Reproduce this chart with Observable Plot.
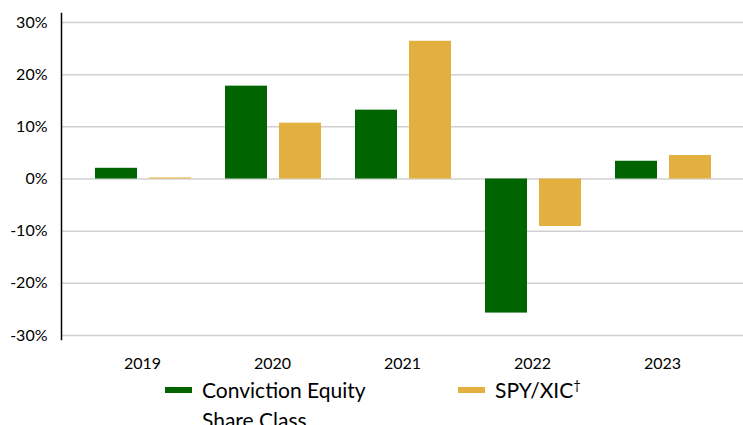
<!DOCTYPE html>
<html>
<head>
<meta charset="utf-8">
<script src="https://cdn.jsdelivr.net/npm/d3@7"></script>
<script src="https://cdn.jsdelivr.net/npm/@observablehq/plot@0.6"></script>
<style>
  html, body { margin: 0; padding: 0; background: #fff; }
  #wrap { width: 743px; height: 425px; overflow: hidden; font-family: Lato, "Open Sans", sans-serif; }
  #legend { position: relative; height: 50px; font-size: 21px; line-height: 30px; color: #000; }
  .item { position: absolute; top: 0; }
  .sw { position: absolute; top: 12px; width: 27px; height: 6px; }
  .lbl { position: absolute; top: 0; }
  sup { font-size: 13px; line-height: 0; vertical-align: 8px; }
</style>
</head>
<body>
<div id="wrap">
  <div id="chart"></div>
  <div id="legend"></div>
</div>
<script>
const years = ["2019", "2020", "2021", "2022", "2023"];
const convictionValues = [2.05, 17.8, 13.2, -25.7, 3.4];
const benchmarkValues = [0.2, 10.7, 26.4, -9.1, 4.5];
const yTicks = [-30, -20, -10, 0, 10, 20, 30];
const seriesNames = ["Conviction Equity Share Class", "SPY/XIC"];
const seriesColors = ["#006400", "#E3B03F"];

const conviction = years.map((year, i) => ({year, value: convictionValues[i]}));
const benchmark = years.map((year, i) => ({year, value: benchmarkValues[i]}));

const chart = Plot.plot({
  width: 743,
  height: 375,
  marginLeft: 61,
  marginRight: 0,
  marginTop: 13,
  marginBottom: 36,
  style: {fontFamily: "Lato, 'Open Sans', sans-serif", fontSize: "16px", color: "#000", background: "#fff"},
  x: {domain: years, paddingInner: 0, paddingOuter: 0.123, label: null, tickSize: 0, tickPadding: 18},
  y: {domain: [-30, 30], insetTop: 9, insetBottom: 4, ticks: yTicks, tickFormat: d => d + "%", label: null, tickSize: 0, tickPadding: 14},
  marks: [
    Plot.ruleY(yTicks, {stroke: "#d0d0d0", strokeWidth: 1.5, insetLeft: 1}),
    Plot.barY(conviction, {x: "year", y: "value", fill: seriesColors[0], insetLeft: 18, insetRight: 70}),
    Plot.barY(benchmark, {x: "year", y: "value", fill: seriesColors[1], insetLeft: 72, insetRight: 16}),
    Plot.frame({anchor: "left", stroke: "#000", strokeWidth: 1.5})
  ]
});
document.getElementById("chart").appendChild(chart);

const legend = document.getElementById("legend");
const positions = [165, 458];
seriesNames.forEach((name, i) => {
  const item = document.createElement("div");
  item.className = "item";
  item.style.left = positions[i] + "px";
  const sw = document.createElement("div");
  sw.className = "sw";
  sw.style.background = seriesColors[i];
  sw.style.left = "0px";
  const lbl = document.createElement("div");
  lbl.className = "lbl";
  lbl.style.left = "37px";
  lbl.style.width = i === 0 ? "185px" : "150px";
  lbl.innerHTML = name + (i === 1 ? "<sup>†</sup>" : "");
  item.appendChild(sw);
  item.appendChild(lbl);
  legend.appendChild(item);
});
</script>
</body>
</html>
